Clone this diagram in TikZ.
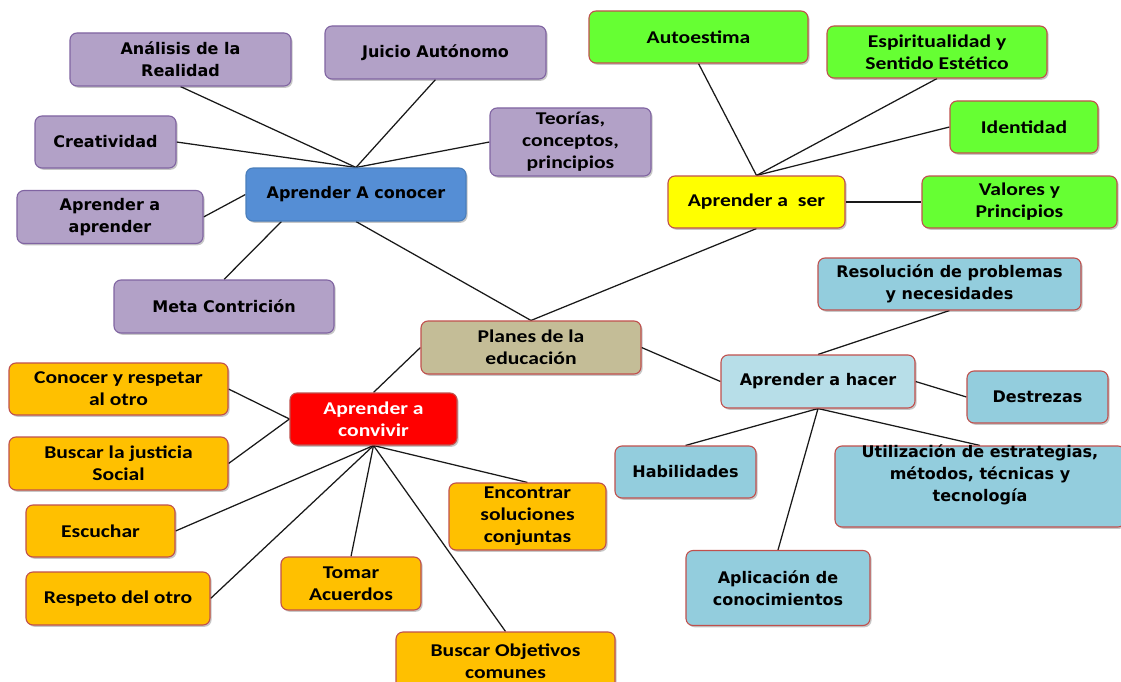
\documentclass[tikz,border=0pt]{standalone}
\usepackage{fontspec}
\newfontfamily\verd{DejaVu Sans}
\newfontfamily\calb{Carlito}[FakeStretch=1.2]
\usetikzlibrary{shadows,calc}
\pgfdeclarelayer{bg}
\pgfsetlayers{bg,main}

\definecolor{purpF}{HTML}{B2A1C7}
\definecolor{purpD}{HTML}{8064A2}
\definecolor{blueF}{HTML}{558ED5}
\definecolor{blueD}{HTML}{4A7EBB}
\definecolor{redD}{HTML}{C0504D}
\definecolor{greenF}{HTML}{66FF33}
\definecolor{yelF}{HTML}{FFFF00}
\definecolor{tanF}{HTML}{C4BD97}
\definecolor{redF}{HTML}{FF0000}
\definecolor{oraF}{HTML}{FFC000}
\definecolor{ltbF}{HTML}{93CDDD}
\definecolor{ltbL}{HTML}{B7DEE8}

\tikzset{
  box/.style={draw, rounded corners=7pt, line width=1.1pt, align=center,
    inner sep=2pt,
    drop shadow={shadow xshift=1.6pt, shadow yshift=-1.8pt, fill=black, opacity=0.22}},
  sz/.style 2 args={minimum width=#1pt, minimum height=#2pt},
  vfont/.style={font=\verd\bfseries\fontsize{16}{22}\selectfont},
  vb/.style={box, vfont},
  cb/.style={box, font=\calb\bfseries\fontsize{18}{22}\selectfont},
  purp/.style={fill=purpF, draw=purpD},
  bluebox/.style={vb, fill=blueF, draw=blueD},
  green/.style={cb, fill=greenF, draw=redD},
  yel/.style={cb, fill=yelF, draw=redD},
  tan/.style={cb, fill=tanF, draw=redD},
  redbox/.style={cb, fill=redF, draw=redD, text=white},
  ora/.style={cb, fill=oraF, draw=redD},
  ltb/.style={vb, fill=ltbF, draw=redD},
  link/.style={draw=black!90, line width=1.25pt}
}

\begin{document}
\begin{tikzpicture}[x=1pt,y=-1pt]
\useasboundingbox (0,0) rectangle (1121,682);

% Aprender a conocer branch
\node[bluebox, sz={220}{53}] (aac) at (356,194.5) {Aprender A conocer};
\node[vb, purp, sz={221}{53}] (ana) at (180.5,59.5) {Análisis de la\\Realidad};
\node[vb, purp, sz={221}{53}] (jui) at (435.5,52.5) {Juicio Autónomo};
\node[vb, purp, sz={141}{52}] (cre) at (105.5,142) {Creatividad};
\node[cb, purp, sz={161}{68}] (teo) at (570.5,142) {Teorías,\\conceptos,\\principios};
\node[vb, purp, sz={186}{53}] (aap) at (110,217) {Aprender a\\aprender};
\node[vb, purp, sz={220}{53}] (meta) at (224,306.5) {Meta Contrición};

% Aprender a ser branch
\node[yel, sz={177}{52}] (ser) at (756.5,202) {Aprender a\ \ ser};
\node[green, sz={219}{52}] (auto) at (698.5,37) {Autoestima};
\node[green, sz={220}{52}] (esp) at (937,52) {Espiritualidad y\\Sentido Estético};
\node[green, sz={148}{52}] (ide) at (1024,127) {Identidad};
\node[green, sz={195}{52}] (val) at (1019.5,202) {Valores y\\Principios};

% centre
\node[tan, sz={220}{53}] (plan) at (531,347.5) {Planes de la\\educación};

% Aprender a convivir branch
\node[redbox, sz={167}{52}] (conv) at (373.5,419) {Aprender a\\convivir};
\node[ora, sz={219}{52}] (con) at (118.5,389) {Conocer y respetar\\al otro};
\node[ora, sz={219}{53}] (jus) at (118.5,463.5) {Buscar la justicia\\Social};
\node[ora, sz={149}{52}] (esc) at (100.5,531) {Escuchar};
\node[ora, sz={184}{53}] (res) at (118,598.5) {Respeto del otro};
\node[ora, sz={140}{53}] (tom) at (351,583.5) {Tomar\\Acuerdos};
\node[ora, sz={157}{67}] (enc) at (527.5,516.5) {Encontrar\\soluciones\\conjuntas};
\node[ora, sz={219}{58}] (obj) at (505.5,661) {Buscar Objetivos\\comunes};

% Aprender a hacer branch
\node[ltb, fill=ltbL, sz={194}{53}] (hac) at (818,381.5) {Aprender a hacer};
\node[ltb, sz={263}{52}] (reso) at (949.5,284) {Resolución de problemas\\y necesidades};
\node[ltb, sz={141}{52}] (des) at (1037.5,397) {Destrezas};
\node[ltb, sz={141}{52}] (hab) at (685.5,472) {Habilidades};
\node[ltb, sz={290}{81}] (util) at (980,486.5) {};
\node[vfont, align=center] (utiltext) at (980,475)
  {Utilización de estrategias,\\métodos, técnicas y\\tecnología};
\node[ltb, sz={184}{75}] (apl) at (778,588) {Aplicación de\\conocimientos};

\begin{pgfonlayer}{bg}
  \fill[white] (0,0) rectangle (1121,682);
  \draw[link] (ana.south) -- (aac.north);
  \draw[link] (jui.south) -- (aac.north);
  \draw[link] (cre.east) -- (aac.north);
  \draw[link] (teo.west) -- (aac.north);
  \draw[link] (aap.east) -- (aac.west);
  \draw[link] (meta.north) -- ([xshift=36pt]aac.south west);
  \draw[link] (aac.south) -- (plan.north);

  \draw[link] (ser.south) -- (plan.north);
  \draw[link] (ser.north) -- (auto.south);
  \draw[link] (ser.north) -- (esp.south);
  \draw[link] (ser.north) -- (ide.west);
  \draw[link] (ser.east) -- (val.west);

  \draw[link] (plan.west) -- (conv.north);
  \draw[link] (con.east) -- (conv.west);
  \draw[link] (jus.east) -- (conv.west);
  \draw[link] (conv.south) -- (esc.east);
  \draw[link] (conv.south) -- (res.east);
  \draw[link] (conv.south) -- (tom.north);
  \draw[link] (conv.south) -- (obj.north);
  \draw[link] (conv.south) -- (enc.north);

  \draw[link] (plan.east) -- (hac.west);
  \draw[link] (hac.north) -- (reso.south);
  \draw[link] (hac.east) -- (des.west);
  \draw[link] (hac.south) -- (hab.north);
  \draw[link] (hac.south) -- (apl.north);
  \draw[link] (hac.south) -- (util.north);
\end{pgfonlayer}
\end{tikzpicture}
\end{document}
